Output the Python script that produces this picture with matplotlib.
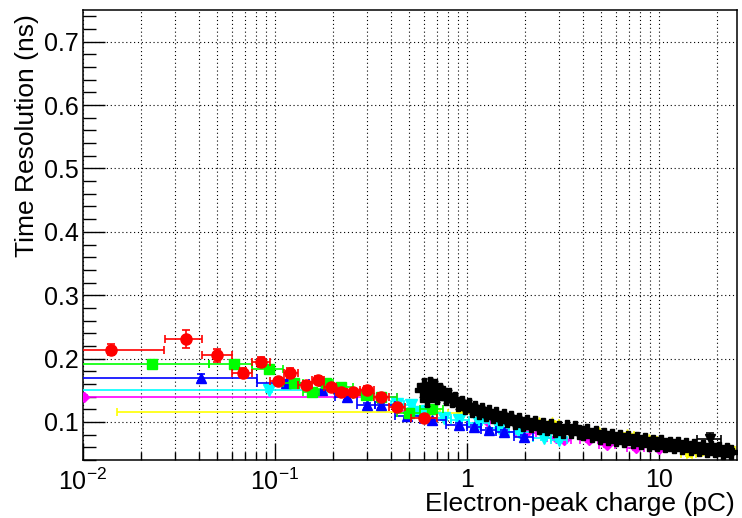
import numpy as np
import matplotlib
matplotlib.use("Agg")
import matplotlib.pyplot as plt
from matplotlib.ticker import LogLocator, MultipleLocator, FixedFormatter, NullFormatter

plt.rcParams['font.family'] = ['Liberation Sans', 'DejaVu Sans']
plt.rcParams['mathtext.fontset'] = 'custom'
plt.rcParams['mathtext.rm'] = 'Liberation Sans'
plt.rcParams['mathtext.it'] = 'Liberation Sans:italic'

# --- data: charge (pC), bin edges, time resolution (ns) and its error ---
red_x = [0.0140, 0.0344, 0.0499, 0.0681, 0.0845, 0.1037, 0.1197, 0.145, 0.1675, 0.196,
         0.2208, 0.2548, 0.3014, 0.3565, 0.4317, 0.597]
red_xlo = [0.0095, 0.0267, 0.0417, 0.0596, 0.0760, 0.0940, 0.1110, 0.132, 0.156, 0.181,
           0.208, 0.237, 0.277, 0.328, 0.392, 0.51]
red_xhi = [0.0264, 0.0417, 0.0596, 0.0760, 0.0940, 0.1110, 0.132, 0.156, 0.181, 0.208,
           0.237, 0.277, 0.328, 0.392, 0.475, 0.70]
red_y = [0.214, 0.231, 0.205, 0.178, 0.194, 0.164, 0.177, 0.158, 0.167, 0.155,
         0.147, 0.147, 0.151, 0.140, 0.123, 0.107]
red_yerr = [0.009, 0.014, 0.010, 0.007, 0.008, 0.006, 0.008, 0.006, 0.006, 0.005,
            0.005, 0.005, 0.005, 0.005, 0.004, 0.004]

green_x = [0.0229, 0.0612, 0.0931, 0.1256, 0.156, 0.1843, 0.221, 0.298, 0.357, 0.499, 0.658]
green_xlo = [0.0090, 0.0453, 0.0760, 0.110, 0.140, 0.170, 0.200, 0.255, 0.325, 0.43, 0.57]
green_xhi = [0.0453, 0.0760, 0.110, 0.140, 0.170, 0.200, 0.255, 0.325, 0.43, 0.57, 0.75]
green_y = [0.192, 0.192, 0.183, 0.162, 0.147, 0.161, 0.155, 0.142, 0.139, 0.114, 0.120]
green_yerr = [0.006, 0.006, 0.005, 0.005, 0.005, 0.005, 0.004, 0.004, 0.004, 0.004, 0.004]

blue_x = [0.0412, 0.114, 0.1758, 0.237, 0.301, 0.356, 0.487, 0.658, 0.908, 1.087, 1.30, 1.56, 1.98]
blue_xlo = [0.0090, 0.0806, 0.150, 0.205, 0.268, 0.330, 0.42, 0.57, 0.78, 1.0, 1.19, 1.42, 1.75]
blue_xhi = [0.0806, 0.150, 0.205, 0.268, 0.330, 0.42, 0.57, 0.78, 1.0, 1.19, 1.42, 1.75, 2.2]
blue_y = [0.170, 0.161, 0.151, 0.139, 0.126, 0.126, 0.110, 0.103, 0.095, 0.092, 0.087, 0.084, 0.077]
blue_yerr = [0.006, 0.005, 0.005, 0.004, 0.004, 0.004, 0.004, 0.003, 0.003, 0.003, 0.003, 0.003, 0.003]

cyan_x = [0.0931, 0.432, 0.511, 0.5623, 0.619, 0.759, 0.908, 1.155, 1.468, 1.866, 2.52, 3.01]
cyan_xlo = [0.0090, 0.40, 0.47, 0.535, 0.59, 0.70, 0.83, 1.03, 1.30, 1.65, 2.2, 2.75]
cyan_xhi = [0.186, 0.47, 0.535, 0.59, 0.65, 0.83, 1.03, 1.30, 1.65, 2.2, 2.75, 3.3]
cyan_y = [0.151, 0.129, 0.126, 0.115, 0.118, 0.106, 0.103, 0.099, 0.090, 0.084, 0.074, 0.071]
cyan_yerr = [0.004, 0.004, 0.004, 0.004, 0.004, 0.003, 0.003, 0.003, 0.003, 0.003, 0.003, 0.003]

magenta_x = [0.0101, 0.5623, 1.271, 2.03, 2.91, 3.2, 4.32, 5.36, 7.59, 10.0]
magenta_xlo = [0.0100, 0.43, 1.10, 1.80, 2.60, 3.05, 3.9, 4.9, 6.8, 9.0]
magenta_xhi = [0.43, 0.70, 1.45, 2.30, 3.05, 3.5, 4.8, 5.9, 8.4, 11.0]
magenta_y = [0.140, 0.118, 0.101, 0.082, 0.074, 0.071, 0.071, 0.063, 0.059, 0.057]
magenta_yerr = [0.003, 0.003, 0.003, 0.003, 0.003, 0.003, 0.003, 0.003, 0.003, 0.003]

yellow_x = [0.62, 0.930, 2.37, 2.77, 3.70, 4.87, 6.81, 8.87, 11.3, 14.3, 17.1, 19.8, 23.2]
yellow_xlo = [0.0150, 0.80, 2.15, 2.55, 3.3, 4.4, 6.2, 8.0, 10.2, 13.0, 15.6, 18.4, 21.5]
yellow_xhi = [0.72, 1.08, 2.55, 3.0, 4.1, 5.3, 7.4, 9.8, 12.5, 15.6, 18.4, 21.5, 25.0]
yellow_y = [0.115, 0.114, 0.099, 0.098, 0.087, 0.082, 0.079, 0.071, 0.062, 0.049, 0.052, 0.052, 0.055]
yellow_yerr = [0.003, 0.003, 0.003, 0.003, 0.003, 0.003, 0.003, 0.003, 0.003, 0.003, 0.003, 0.003, 0.003]

black_x = [0.58, 0.60, 0.62, 0.64, 0.66, 0.68, 0.70, 0.72, 0.75, 0.78, 0.81, 0.84, 0.87, 0.90,
           0.94, 0.98, 1.02, 1.06, 1.10, 1.15, 1.20, 1.25, 1.30, 1.36, 1.42, 1.48, 1.55, 1.62,
           1.70, 1.78, 1.86, 1.95, 2.05, 2.15, 2.25, 2.36, 2.48, 2.60, 2.73, 2.87, 3.01, 3.16,
           3.32, 3.49, 3.66, 3.85, 4.04, 4.24, 4.46, 4.68, 4.92, 5.17, 5.43, 5.70, 5.99, 6.29,
           6.61, 6.94, 7.29, 7.66, 8.05, 8.45, 8.88, 9.33, 9.80, 10.3, 10.8, 11.4, 12.0, 12.6,
           13.2, 13.9, 14.6, 15.3, 16.1, 16.9, 17.8, 18.7, 19.6, 20.6, 21.6, 22.7, 23.8]
black_y = [0.150, 0.158, 0.135, 0.160, 0.148, 0.156, 0.140, 0.150, 0.145, 0.138, 0.142, 0.134,
           0.136, 0.128, 0.130, 0.124, 0.127, 0.119, 0.122, 0.116, 0.119, 0.112, 0.115, 0.109,
           0.112, 0.106, 0.109, 0.103, 0.106, 0.100, 0.103, 0.097, 0.100, 0.095, 0.098, 0.092,
           0.095, 0.090, 0.093, 0.088, 0.091, 0.086, 0.092, 0.085, 0.090, 0.084, 0.083, 0.085,
           0.079, 0.082, 0.077, 0.080, 0.075, 0.078, 0.073, 0.076, 0.071, 0.074, 0.070, 0.073,
           0.068, 0.071, 0.066, 0.069, 0.065, 0.068, 0.063, 0.066, 0.062, 0.065, 0.060, 0.063,
           0.059, 0.062, 0.058, 0.060, 0.056, 0.059, 0.055, 0.057, 0.053, 0.055, 0.052]
black_yerr = [0.010, 0.010, 0.010, 0.010, 0.009, 0.009, 0.009, 0.009, 0.008, 0.008, 0.008, 0.008,
              0.007, 0.007, 0.007, 0.007, 0.007, 0.007, 0.007, 0.007, 0.006, 0.006, 0.006, 0.006,
              0.006, 0.006, 0.006, 0.006, 0.006, 0.006, 0.006, 0.006, 0.005, 0.005, 0.005, 0.005,
              0.005, 0.005, 0.005, 0.005, 0.005, 0.005, 0.005, 0.005, 0.005, 0.005, 0.005, 0.005,
              0.005, 0.005, 0.005, 0.005, 0.005, 0.005, 0.005, 0.005, 0.005, 0.005, 0.005, 0.005,
              0.004, 0.004, 0.004, 0.004, 0.004, 0.004, 0.004, 0.004, 0.004, 0.004, 0.004, 0.004,
              0.004, 0.004, 0.004, 0.004, 0.004, 0.004, 0.004, 0.004, 0.004, 0.004, 0.004]

# single wide-bin point at high charge
black_hi_x = [18.4]
black_hi_xlo = [15.8]
black_hi_xhi = [21.1]
black_hi_y = [0.073]
black_hi_yerr = [0.010]

x_ticks = [0.01, 0.1, 1, 10]
x_ticklabels = ['$10^{-2}$', '$10^{-1}$', '1', '10']

fig = plt.figure(figsize=(7.42, 5.18), dpi=100)
ax = fig.add_axes([83 / 742, 1 - 460 / 518, 654 / 742, 450 / 518])


def draw(x, xlo, xhi, y, yerr, color, marker, ms, z):
    x = np.asarray(x)
    xerr = [x - np.asarray(xlo), np.asarray(xhi) - x]
    ax.errorbar(x, y, xerr=xerr, yerr=yerr, fmt=marker, color=color, ms=ms,
                mec=color, mfc=color, elinewidth=1.2, capsize=3, capthick=1.2,
                zorder=z, clip_on=True)


draw(yellow_x, yellow_xlo, yellow_xhi, yellow_y, yellow_yerr, '#ffff00', '*', 8, 3)
draw(magenta_x, magenta_xlo, magenta_xhi, magenta_y, magenta_yerr, '#ff00ff', 'D', 5, 4)
draw(cyan_x, cyan_xlo, cyan_xhi, cyan_y, cyan_yerr, '#00ffff', 'v', 8, 5)
draw(blue_x, blue_xlo, blue_xhi, blue_y, blue_yerr, '#0000ff', '^', 7.5, 6)
draw(green_x, green_xlo, green_xhi, green_y, green_yerr, '#00ff00', 's', 7.5, 7)
draw(red_x, red_xlo, red_xhi, red_y, red_yerr, '#ff0000', 'o', 8, 8)

# black graph: bins reach half way (in log) to the neighbouring points
bx = np.asarray(black_x)
mid = np.sqrt(bx[:-1] * bx[1:])
b_lo = np.concatenate([[bx[0] * 0.98], mid])
b_hi = np.concatenate([mid, [bx[-1] * 1.02]])
ax.errorbar(bx, black_y, xerr=[bx - b_lo, b_hi - bx], yerr=black_yerr, fmt='P',
            color='black', ms=9.5, elinewidth=1.4, capsize=2, zorder=9)
draw(black_hi_x, black_hi_xlo, black_hi_xhi, black_hi_y, black_hi_yerr, 'black', 'v', 7, 9)

ax.set_xscale('log')
ax.set_xlim(0.01, 25.5)
ax.set_ylim(0.04, 0.75)

ax.xaxis.set_minor_locator(LogLocator(base=10, subs=np.arange(2, 10), numticks=20))
ax.set_xticks(x_ticks)
ax.xaxis.set_major_formatter(FixedFormatter(x_ticklabels))
ax.xaxis.set_minor_formatter(NullFormatter())
ax.yaxis.set_major_locator(MultipleLocator(0.1))
ax.yaxis.set_minor_locator(MultipleLocator(0.02))
ax.yaxis.set_major_formatter(plt.FuncFormatter(lambda v, p: f'{v:.1f}'))

ax.tick_params(which='both', direction='in', top=False, right=False, colors='black',
               labelsize=18, width=1.0)
ax.tick_params(axis='y', which='major', length=16, pad=3)
ax.tick_params(axis='y', which='minor', length=9)
ax.tick_params(axis='x', which='major', length=12, pad=6)
ax.tick_params(axis='x', which='minor', length=6)

ax.grid(True, which='major', axis='both', color='black', linestyle=(0, (1, 2.5)), linewidth=0.8)
ax.grid(True, which='minor', axis='x', color='black', linestyle=(0, (1, 2.5)), linewidth=0.8)
ax.set_axisbelow(True)

for s in ax.spines.values():
    s.set_linewidth(1.1)
    s.set_color('black')

fig.text(27 / 742, 1 - 14 / 518, 'Time Resolution (ns)', rotation=90, ha='center', va='top',
         fontsize=19)
fig.text(735 / 742, 1 - 504 / 518, 'Electron-peak charge (pC)', ha='right', va='center',
         fontsize=19)

fig.savefig('out.png', dpi=100)
